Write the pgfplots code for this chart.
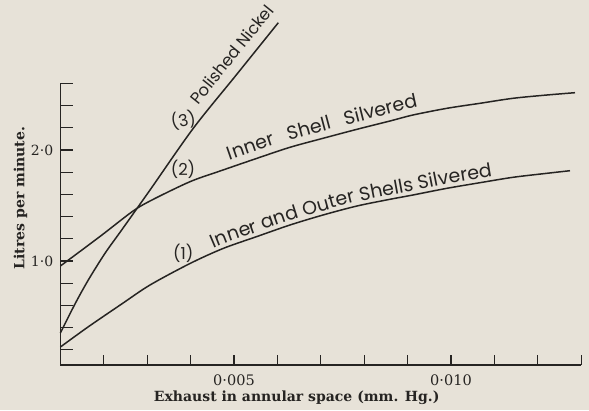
\documentclass[border=0pt]{standalone}
\usepackage{fontspec}
\setmainfont{DejaVu Serif}
\newfontfamily\lbl{Poppins}
\usepackage{pgfplots}
\pgfplotsset{compat=1.18}
\usetikzlibrary{decorations.text}
\definecolor{paper}{RGB}{231,226,216}
\definecolor{ink}{RGB}{38,36,34}
\begin{document}
\begin{tikzpicture}
\fill[paper] (-60.4pt,-45pt) rectangle (528.6pt,365pt);
\begin{axis}[
  at={(0pt,0pt)}, anchor=south west,
  scale only axis, width=520.8pt, height=281.6pt,
  xmin=0.001, xmax=0.013, ymin=0.063, ymax=2.6,
  axis lines=left,
  axis line style={-, line width=1.5pt, draw=ink},
  tick align=inside,
  scaled x ticks=false, scaled y ticks=false,
  xtick={0.002,0.003,0.004,0.005,0.006,0.007,0.008,0.009,0.010,0.011,0.012,0.013},
  xticklabels={,,,0·005,,,,,0·010,,,},
  ytick={0.2,0.4,0.6,0.8,1.0,1.2,1.4,1.6,1.8,2.0,2.2,2.4,2.6},
  yticklabels={,,,,1·0,,,,,2·0,,,},
  x tick style={line width=1.1pt, draw=ink, /pgfplots/major tick length=10.5pt},
  y tick style={line width=1.1pt, draw=ink, /pgfplots/major tick length=13pt},
  xticklabel style={font=\fontsize{14.5}{16}\selectfont, text=ink, inner sep=0pt, anchor=north, yshift=-10pt},
  yticklabel style={font=\fontsize{14}{16}\selectfont, text=ink, inner sep=0pt, anchor=east, xshift=-7pt},
  xlabel={Exhaust in annular space (mm. Hg.)},
  ylabel={Litres per minute.},
  xlabel style={at={(rel axis cs:0.4537,-0.1172)}, anchor=center, font=\bfseries\fontsize{14}{16}\selectfont, text=ink},
  ylabel style={at={(rel axis cs:-0.0768,0.593)}, anchor=center, font=\bfseries\fontsize{14}{16}\selectfont, text=ink},
  clip=false,
]
% (1) Inner and Outer Shells Silvered
\addplot[ink, line width=1.5pt, smooth,
  postaction={decorate},
  decoration={text along path, raise=4pt, text color=ink,
    text align={left indent=182pt},
    text={|\lbl\fontsize{19}{21}\selectfont|Inner and Outer Shells Silvered}}] coordinates {
(0.001000,0.2252) (0.001636,0.4054) (0.002412,0.6126) (0.003065,0.7838)
(0.003986,0.9775) (0.004747,1.1126) (0.005530,1.2207) (0.006290,1.3243)
(0.007051,1.4144) (0.007834,1.4955) (0.008594,1.5559) (0.009124,1.5946)
(0.009908,1.6550) (0.010668,1.7054) (0.011429,1.7541) (0.012212,1.7901)
(0.012742,1.8135)
};
% (2) Inner Shell Silvered
\addplot[ink, line width=1.5pt, smooth,
  postaction={decorate},
  decoration={text along path, raise=7pt, text color=ink,
    text align={left indent=200pt},
    text={|\lbl\fontsize{19}{21}\selectfont|Inner{\hskip9pt} Shell{\hskip9pt} Silvered}}] coordinates {
(0.001000,0.9550) (0.001912,1.2207) (0.002643,1.4414) (0.003065,1.5405)
(0.003986,1.7144) (0.004747,1.8198) (0.005530,1.9252) (0.006290,2.0243)
(0.007051,2.1054) (0.007834,2.1865) (0.008594,2.2613) (0.009124,2.3153)
(0.009908,2.3757) (0.010668,2.4207) (0.011429,2.4658) (0.012212,2.4955)
(0.012857,2.5162)
};
% (3) Polished Nickel
\addplot[ink, line width=1.5pt, smooth] coordinates {
(0.001000,0.3514) (0.001336,0.6126) (0.001643,0.8288) (0.002028,1.0694)
(0.002412,1.2793) (0.003065,1.6396) (0.004062,2.1955) (0.005046,2.6730)
(0.006021,3.1468)
};
\node[text=ink, font=\lbl\fontsize{16.5}{18}\selectfont, rotate=51.2, anchor=base west, inner sep=0pt] at (axis cs:0.004182,2.398) {Polished Nickel};
\node[text=ink, font=\lbl\fontsize{16.5}{18}\selectfont, rotate=12] at (axis cs:0.003830,2.270) {(3)};
\node[text=ink, font=\lbl\fontsize{16.5}{18}\selectfont] at (axis cs:0.003825,1.829) {(2)};
\node[text=ink, font=\lbl\fontsize{16.5}{18}\selectfont] at (axis cs:0.003832,1.072) {(1)};
\end{axis}
\pgfresetboundingbox
\path (-60.4pt,-45pt) rectangle (528.6pt,365pt);
\end{tikzpicture}
\end{document}
